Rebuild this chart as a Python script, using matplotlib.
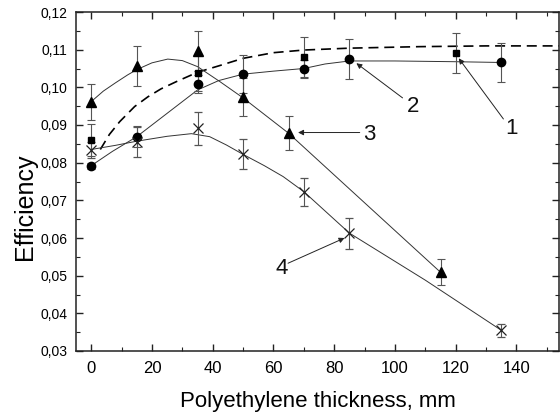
import matplotlib
matplotlib.use("Agg")
import matplotlib.pyplot as plt
from matplotlib.ticker import MultipleLocator, FuncFormatter

plt.rcParams['font.family'] = ['Liberation Sans', 'DejaVu Sans']

# ---- data ----
x1 = [0, 35, 70, 120]
y1 = [0.0860, 0.1038, 0.1080, 0.1090]
e1 = [0.0042, 0.0048, 0.0053, 0.0053]

x2 = [0, 15, 35, 50, 70, 85, 135]
y2 = [0.0792, 0.0869, 0.1008, 0.1036, 0.1049, 0.1075, 0.1066]
e2 = [0.0008, 0.0028, 0.0024, 0.0050, 0.0023, 0.0053, 0.0051]

x3 = [0, 15, 35, 50, 65, 115]
y3 = [0.0962, 0.1057, 0.1096, 0.0974, 0.0878, 0.0509]
e3 = [0.0048, 0.0053, 0.0053, 0.0050, 0.0045, 0.0035]

x4 = [0, 15, 35, 50, 70, 85, 135]
y4 = [0.0834, 0.0856, 0.0891, 0.0822, 0.0723, 0.0613, 0.0355]
e4 = [0.0022, 0.0040, 0.0044, 0.0040, 0.0037, 0.0041, 0.0018]

# fitted curves
fx1 = [3, 6, 9.4, 14.3, 18.7, 23, 28, 35, 42, 50, 60, 70, 85, 108, 130, 154]
fy1 = [0.0835, 0.0875, 0.0909, 0.0949, 0.0975, 0.0996, 0.1015, 0.1040, 0.1057, 0.1077,
       0.1092, 0.1099, 0.1104, 0.1108, 0.1110, 0.1110]

fx2 = [0, 7, 15, 25, 35, 42, 50, 60, 70, 77, 85, 100, 120, 135]
fy2 = [0.0792, 0.0830, 0.0869, 0.0931, 0.0993, 0.1018, 0.1035, 0.1043, 0.1050, 0.1062,
       0.1070, 0.1070, 0.1068, 0.1066]

fx3 = [0, 4, 8, 12, 15, 20, 25.2, 30, 35, 42.4, 50, 57.5, 65, 115]
fy3 = [0.0962, 0.0990, 0.1012, 0.1033, 0.1047, 0.1065, 0.1075, 0.1071, 0.1055, 0.1015,
       0.0972, 0.0925, 0.0878, 0.0509]

fx4 = [0, 8, 15, 25, 33, 39, 44.5, 50, 57, 63.2, 70, 85, 110, 135]
fy4 = [0.0835, 0.0846, 0.0857, 0.0870, 0.0877, 0.0869, 0.0847, 0.0822, 0.0792, 0.0763,
       0.0723, 0.0613, 0.0488, 0.0355]

labels = ['1', '2', '3', '4']
label_pos = [(138.3, 0.0892), (105.8, 0.0948), (91.7, 0.0874), (62.6, 0.0520)]
arrow_from = [(135.7, 0.0916), (102.5, 0.0972), (88.4, 0.0880), (64.8, 0.0533)]
arrow_to = [(121.0, 0.1077), (87.3, 0.1064), (68.1, 0.0880), (83.4, 0.0600)]

# ---- figure ----
fig = plt.figure(figsize=(5.6, 4.16), dpi=100)
ax = fig.add_axes([76/560, 1-351/416, (559-76)/560, (351-12)/416])

line_c = '#333333'
err_c = '#555555'

ax.plot(fx1, fy1, color='black', lw=1.2, ls=(0, (6, 3.5)), zorder=2)
ax.plot(fx2, fy2, color=line_c, lw=0.7, zorder=2)
ax.plot(fx3, fy3, color=line_c, lw=0.7, zorder=2)
ax.plot(fx4, fy4, color=line_c, lw=0.7, zorder=2)

ekw = dict(ls='none', ecolor=err_c, elinewidth=0.8, capsize=2.6, capthick=0.8, zorder=3)
ax.errorbar(x1, y1, yerr=e1, marker='s', ms=5, mfc='black', mec='black', **ekw)
ax.errorbar(x2, y2, yerr=e2, marker='o', ms=6, mfc='black', mec='black', **ekw)
ax.errorbar(x3, y3, yerr=e3, marker='^', ms=7, mfc='black', mec='black', **ekw)
ax.errorbar(x4, y4, yerr=e4, marker='x', ms=7, mew=0.9, mfc='black', mec='#222222', **ekw)

for lab, p, a0, a1 in zip(labels, label_pos, arrow_from, arrow_to):
    ax.text(p[0], p[1], lab, fontsize=16, ha='center', va='center', color='#111111')
    ax.annotate('', xy=a1, xytext=a0,
                arrowprops=dict(arrowstyle='-|>', color='#222222', lw=0.7,
                                mutation_scale=8, shrinkA=0, shrinkB=0))

ax.set_xlim(-5, 154)
ax.set_ylim(0.03, 0.12)
ax.xaxis.set_major_locator(MultipleLocator(20))
ax.xaxis.set_minor_locator(MultipleLocator(10))
ax.yaxis.set_major_locator(MultipleLocator(0.01))
ax.yaxis.set_minor_locator(MultipleLocator(0.005))
ax.yaxis.set_major_formatter(FuncFormatter(lambda v, p: f"{v:.2f}".replace('.', ',')))

ax.tick_params(which='both', direction='in', top=True, right=True, color='#222222')
ax.tick_params(which='major', length=5, width=1.0)
ax.tick_params(which='minor', length=3, width=0.8)
ax.tick_params(axis='x', labelsize=12, pad=7)
ax.tick_params(axis='y', labelsize=10, pad=6)
for s in ax.spines.values():
    s.set_linewidth(1.1)
    s.set_color('#222222')

ax.set_xlabel('Polyethylene thickness, mm', fontsize=16, labelpad=11)
ax.set_ylabel('Efficiency', fontsize=18)
ax.yaxis.set_label_coords(-0.08, 0.425)

fig.savefig('out.png', dpi=100)
